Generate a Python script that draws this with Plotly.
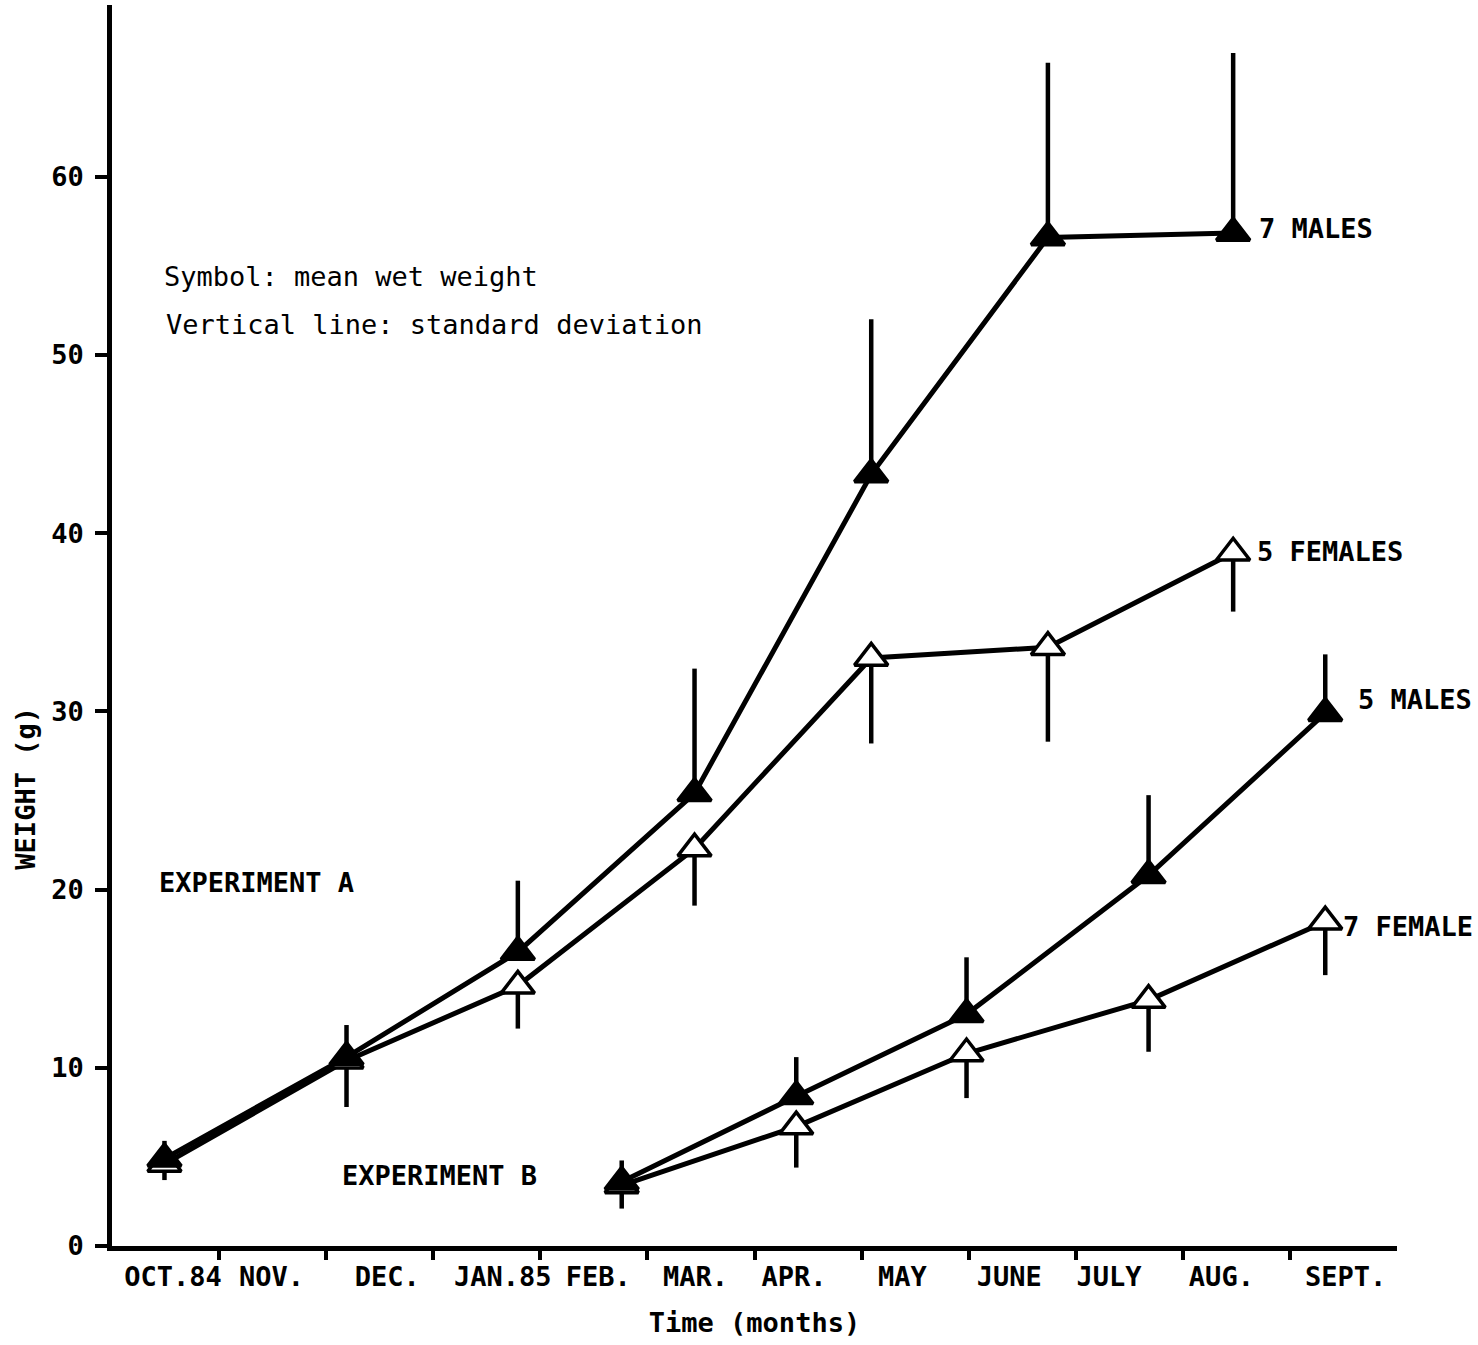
import plotly.graph_objects as go

# Time axis: months elapsed since 1 October 1984
month_labels = ["OCT.84", "NOV.", "DEC.", "JAN.85", "FEB.", "MAR.", "APR.",
                "MAY", "JUNE", "JULY", "AUG.", "SEPT."]
month_label_pos = [0.57, 1.49, 2.57, 3.65, 4.54, 5.45, 6.37, 7.38, 8.38, 9.31, 10.36, 11.52]
month_bounds = list(range(1, 12))

# Experiment A sampling dates
months_a = [0.49, 2.19, 3.79, 5.44, 7.09, 8.74, 10.47]
males_a = [4.9, 10.6, 16.5, 25.4, 43.3, 56.6, 56.85]
males_a_sd = [1.0, 1.8, 4.0, 7.0, 8.7, 9.8, 10.1]
females_a = [4.6, 10.4, 14.6, 22.3, 33.0, 33.6, 38.9]
females_a_sd = [0.9, 2.6, 2.4, 3.2, 4.8, 5.3, 3.3]

# Experiment B sampling dates
months_b = [4.76, 6.39, 7.98, 9.68, 11.33]
males_b = [3.6, 8.4, 13.0, 20.8, 29.9]
males_b_sd = [1.2, 2.2, 3.2, 4.5, 3.3]
females_b = [3.4, 6.7, 10.8, 13.8, 18.2]
females_b_sd = [1.3, 2.3, 2.5, 2.9, 3.0]

FONT = "DejaVu Sans Mono"
INK = "black"

fig = go.Figure()


def add_series(x, y, sd, filled, upward):
    zeros = [0] * len(sd)
    fig.add_trace(go.Scatter(
        x=x, y=y, mode="lines+markers",
        line=dict(color=INK, width=5),
        marker=dict(symbol="triangle-up", size=29,
                    color=INK if filled else "white",
                    line=dict(color=INK, width=3.5)),
        error_y=dict(type="data", symmetric=False,
                     array=sd if upward else zeros,
                     arrayminus=zeros if upward else sd,
                     color=INK, thickness=4.5, width=0),
        showlegend=False,
        cliponaxis=False,
    ))


add_series(months_a, females_a, females_a_sd, filled=False, upward=False)
add_series(months_a, males_a, males_a_sd, filled=True, upward=True)
add_series(months_b, females_b, females_b_sd, filled=False, upward=False)
add_series(months_b, males_b, males_b_sd, filled=True, upward=True)

bold = dict(family=FONT, size=27, color=INK, weight="bold")
plain = dict(family=FONT, size=27, color=INK)

annotations = [
    dict(x=months_a[-1], y=males_a[-1], text="7 MALES", xanchor="left",
         xshift=24, yshift=4, font=bold),
    dict(x=months_a[-1], y=females_a[-1], text="5 FEMALES", xanchor="left",
         xshift=22, yshift=1, font=bold),
    dict(x=months_b[-1], y=males_b[-1], text="5 MALES", xanchor="left",
         xshift=31, yshift=14, font=bold),
    dict(x=months_b[-1], y=females_b[-1], text="7 FEMALE", xanchor="left",
         xshift=16, yshift=-5, font=bold),
    dict(x=0.466, y=54.4, text="Symbol: mean wet weight", xanchor="left",
         font=plain),
    dict(x=0.485, y=51.7, text="Vertical line: standard deviation",
         xanchor="left", font=plain),
    dict(x=0.42, y=20.4, text="EXPERIMENT A", xanchor="left", font=bold),
    dict(x=2.13, y=3.93, text="EXPERIMENT B", xanchor="left", font=bold),
]
for a in annotations:
    a.update(xref="x", yref="y", showarrow=False, yanchor="middle")

# vertical axis title, set low on the axis
annotations.append(dict(
    xref="paper", yref="y", x=-0.068, y=25.7, text="WEIGHT (g)",
    textangle=-90, showarrow=False, xanchor="center", yanchor="middle",
    font=bold,
))

fig.update_layout(
    width=1478, height=1345,
    margin=dict(l=112, r=81, t=5, b=99),
    paper_bgcolor="white", plot_bgcolor="white",
    annotations=annotations,
    xaxis=dict(
        range=[0, 12], showgrid=False, zeroline=False,
        showline=True, linecolor=INK, linewidth=5,
        tickmode="array", tickvals=month_label_pos, ticktext=month_labels,
        ticks="", ticklabelstandoff=3,
        tickfont=bold,
        minor=dict(tickmode="array", tickvals=month_bounds, ticks="outside",
                   ticklen=9, tickwidth=4, tickcolor=INK, showgrid=False),
        title=dict(text="Time (months)", font=bold, standoff=23),
    ),
    yaxis=dict(
        range=[0, 69.64], showgrid=False, zeroline=False,
        showline=True, linecolor=INK, linewidth=4.5,
        tickmode="array", tickvals=[0, 10, 20, 30, 40, 50, 60],
        ticks="outside", ticklen=12, tickwidth=4, tickcolor=INK,
        tickfont=bold, ticklabelstandoff=6,
    ),
)

fig.write_html("out.html")
